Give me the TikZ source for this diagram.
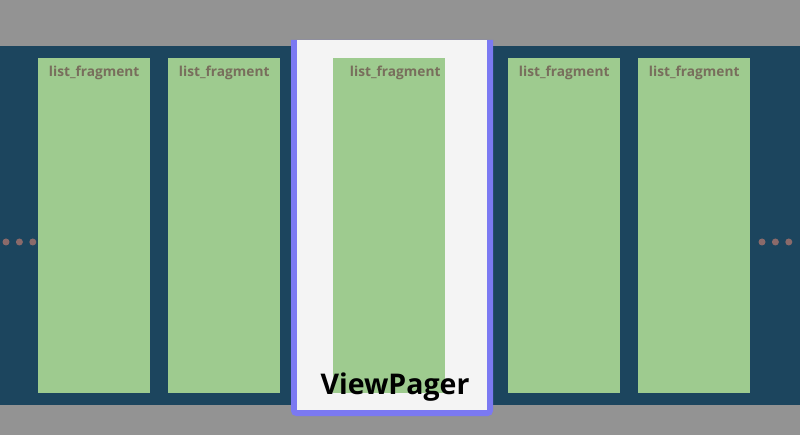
\documentclass[tikz,border=0pt]{standalone}
\usepackage{fontspec}
\setmainfont{Open Sans}
\usetikzlibrary{positioning}
\definecolor{bggray}{HTML}{939393}
\definecolor{band}{HTML}{1C455E}
\definecolor{fraggreen}{HTML}{9ECB8F}
\definecolor{pagewhite}{HTML}{F4F4F4}
\definecolor{vpblue}{HTML}{7B79F2}
\definecolor{lblcol}{HTML}{786E5C}
\definecolor{dotcol}{HTML}{8B6A6A}

\begin{document}
\begin{tikzpicture}[x=1pt,y=-1pt,
            frag/.style={rectangle,fill=fraggreen,anchor=north west,minimum width=112pt,minimum height=335pt,inner sep=0pt},
            lbl/.style={anchor=base,text=lblcol,font=\fontsize{13.7}{15}\selectfont\bfseries,inner sep=0pt},
            dot/.style={circle,fill=dotcol,minimum size=7pt,inner sep=0pt}]

            \useasboundingbox (0,0) rectangle (800,435);
            \fill[bggray] (0,0) rectangle (800,435);
            \fill[band] (0,46) rectangle (800,405);

            % pager frame
            \fill[vpblue] (291,40) {[rounded corners=5pt] -- (291,416) -- (493,416)} -- (493,40) -- cycle;
            \fill[pagewhite] (297,40) rectangle (487,410);

            \node[frag] (frag1) at (38,58) {};
            \node[frag] (frag2) at (168,58) {};
            \node[frag] (frag3) at (333,58) {};
            \node[frag] (frag4) at (508,58) {};
            \node[frag] (frag5) at (638,58) {};

            \node[lbl] (lbl1) at ([yshift=-19pt]frag1.north) {list\_fragment};
            \node[lbl] (lbl2) at ([yshift=-19pt]frag2.north) {list\_fragment};
            \node[lbl] (lbl3) at ([xshift=6pt,yshift=-19pt]frag3.north) {list\_fragment};
            \node[lbl] (lbl4) at ([yshift=-19pt]frag4.north) {list\_fragment};
            \node[lbl] (lbl5) at ([yshift=-19pt]frag5.north) {list\_fragment};

            \node[anchor=base,inner sep=0pt,font=\fontsize{28.5}{31}\selectfont\bfseries] (pager) at (395,394) {ViewPager};

            \node[dot] (dl1) at (6,242) {};
            \node[dot, right=6pt of dl1] (dl2) {};
            \node[dot, right=6pt of dl2] (dl3) {};
            \node[dot] (dr1) at (762,242) {};
            \node[dot, right=6pt of dr1] (dr2) {};
            \node[dot, right=6pt of dr2] (dr3) {};
         \end{tikzpicture}
\end{document}
